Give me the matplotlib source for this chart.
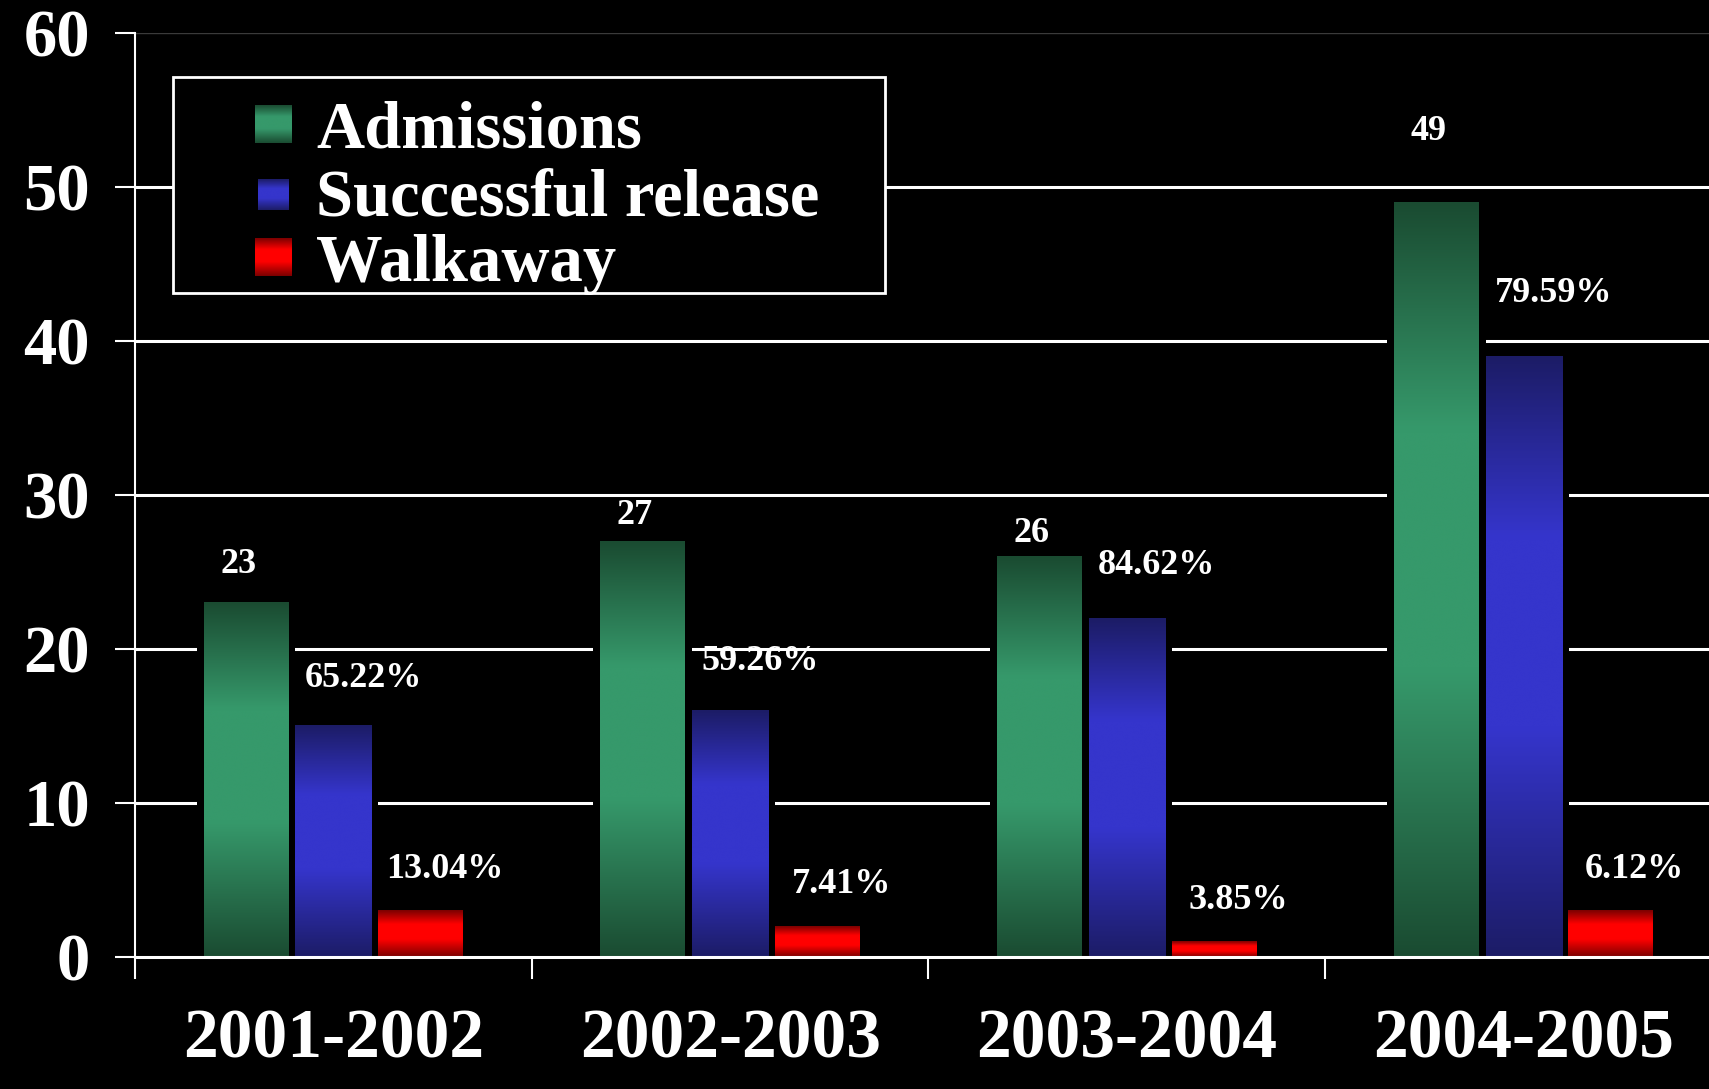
import matplotlib
matplotlib.use("Agg")
import matplotlib.pyplot as plt
import numpy as np
from matplotlib.colors import LinearSegmentedColormap
from matplotlib.patches import Rectangle

years = ['2001-2002', '2002-2003', '2003-2004', '2004-2005']
admissions = [23, 27, 26, 49]
released = [15, 16, 22, 39]
walkaway = [3, 2, 1, 3]
series_names = ['Admissions', 'Successful release', 'Walkaway']

# label heights above bar tops
adm_lbl_off = [2.5, 1.7, 1.5, 4.6]
rel_lbl_off = [3.1, 3.2, 3.4, 4.1]
walk_lbl_off = [2.7, 2.7, 2.7, 2.7]

plt.rcParams['font.family'] = ['Liberation Serif', 'DejaVu Serif']
plt.rcParams['font.weight'] = 'bold'


def shade(dark, light):
    stops = [(0.0, dark), (0.3, light), (0.45, light), (0.62, light), (1.0, dark)]
    return LinearSegmentedColormap.from_list('g', stops)


cm_green = shade('#1a4b31', '#36996b')
cm_blue = shade('#1c1c66', '#3535cc')
cm_red = shade('#7a0000', '#ff0000')
grad = np.linspace(0, 1, 256).reshape(-1, 1)

fig = plt.figure(figsize=(17.09, 10.89), dpi=100, facecolor='black')
ax = fig.add_axes([0.0790, 0.1212, 0.9286, 0.8485])
ax.set_facecolor('black')

x = np.arange(len(years))
specs = [(admissions, -0.22, 0.214, cm_green),
         (released, 0.0, 0.192, cm_blue),
         (walkaway, 0.22, 0.214, cm_red)]

for vals, off, w, cmap in specs:
    # black backing makes the gap in the gridlines around each bar
    ax.bar(x + off, vals, width=w + 0.035, color='black', zorder=2.5)
    bars = ax.bar(x + off, vals, width=w, color='none', zorder=3)
    for b in bars:
        x0 = b.get_x()
        ax.imshow(grad, cmap=cmap, aspect='auto', interpolation='bicubic',
                  extent=[x0, x0 + b.get_width(), 0, b.get_height()], zorder=3)

lbl = dict(color='white', fontsize=26, fontweight='bold', ha='center', va='center', zorder=9)
for i in range(len(years)):
    ax.text(x[i] - 0.24, admissions[i] + adm_lbl_off[i], str(admissions[i]), **lbl)
    ax.text(x[i] + 0.075, released[i] + rel_lbl_off[i],
            '%.2f%%' % (100.0 * released[i] / admissions[i]), **lbl)
    ax.text(x[i] + 0.28, walkaway[i] + walk_lbl_off[i],
            '%.2f%%' % (100.0 * walkaway[i] / admissions[i]), **lbl)

# grid
for yv in range(10, 60, 10):
    ax.axhline(yv, color='white', lw=2.2, zorder=1)
ax.axhline(60, color='#3a3a3a', lw=1, zorder=1)

ax.set_xlim(-0.5, 3.5)
ax.set_ylim(0, 60)
ax.set_yticks(range(0, 61, 10))
ax.set_xticks(x)
ax.set_xticklabels(years)
ax.set_xticks(np.arange(-0.5, 4.0, 1.0), minor=True)
ax.tick_params(axis='y', colors='white', labelsize=48, length=14.5, width=1.5, pad=18)
ax.tick_params(axis='x', which='major', colors='white', labelsize=50, length=0, pad=37)
ax.tick_params(axis='x', which='minor', colors='white', length=16, width=1.5)
for lab in ax.get_xticklabels() + ax.get_yticklabels():
    lab.set_fontweight('bold')

for s in ['top', 'right']:
    ax.spines[s].set_visible(False)
ax.spines['left'].set_color('white')
ax.spines['left'].set_linewidth(1.5)
ax.spines['bottom'].set_color('white')
ax.spines['bottom'].set_linewidth(2.2)
ax.spines['bottom'].set_zorder(4)

# legend box drawn by hand
ax.add_patch(Rectangle((0.0239, 0.7186), 0.4487, 0.2338, transform=ax.transAxes,
                       facecolor='black', edgecolor='white', lw=2, zorder=6))
handle_boxes = [(0.0756, 0.8809, 0.0233, 0.0401),
                (0.0775, 0.8080, 0.0195, 0.0335),
                (0.0756, 0.7370, 0.0233, 0.0401)]
text_base = [0.8766, 0.8030, 0.7316]
for (hx, hy, hw, hh), cmap, name, ty in zip(handle_boxes, [cm_green, cm_blue, cm_red],
                                             series_names, text_base):
    ax.imshow(grad, cmap=cmap, aspect='auto', interpolation='bicubic',
              extent=[hx, hx + hw, hy, hy + hh], transform=ax.transAxes, zorder=7)
    ax.text(0.114, ty, name, transform=ax.transAxes, color='white', fontsize=48,
            fontweight='bold', va='baseline', ha='left', zorder=8)

ax.set_xlim(-0.5, 3.5)
ax.set_ylim(0, 60)

fig.savefig('out.png', dpi=100, facecolor='black')
